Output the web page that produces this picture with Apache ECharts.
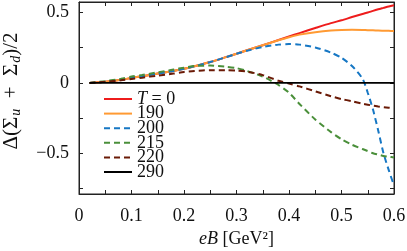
<!DOCTYPE html>
<html><head><meta charset="utf-8">
<script src="https://cdn.jsdelivr.net/npm/echarts@6/dist/echarts.min.js"></script>
<style>html,body{margin:0;padding:0;background:#fff}#c{width:407px;height:251px}</style>
</head><body><div id="c"></div>
<script>
const eB = [0.02,0.05,0.08,0.1,0.12,0.15,0.18,0.2,0.22,0.25,0.28,0.3,0.32,0.35,0.38,0.4,0.42,0.45,0.48,0.5,0.52,0.54,0.55,0.56,0.57,0.58,0.59,0.6];
const T0   = [0,0.008,0.022,0.035,0.047,0.066,0.085,0.1,0.118,0.148,0.183,0.207,0.232,0.268,0.305,0.33,0.354,0.39,0.425,0.445,0.468,0.49,0.5,0.512,0.523,0.533,0.543,0.552];
const T190 = [0,0.008,0.022,0.035,0.047,0.066,0.085,0.1,0.118,0.148,0.183,0.207,0.232,0.268,0.303,0.325,0.343,0.36,0.372,0.376,0.377,0.376,0.375,0.374,0.372,0.371,0.37,0.369];
const T200 = [0,0.008,0.022,0.035,0.047,0.066,0.085,0.1,0.118,0.148,0.183,0.207,0.228,0.255,0.272,0.276,0.272,0.252,0.215,0.178,0.12,0.03,-0.07,-0.19,-0.34,-0.5,-0.62,-0.73];
const T215 = [0,0.012,0.03,0.045,0.056,0.075,0.095,0.108,0.12,0.123,0.115,0.105,0.085,0.045,-0.015,-0.07,-0.15,-0.26,-0.35,-0.4,-0.44,-0.47,-0.485,-0.5,-0.51,-0.52,-0.525,-0.53];
const T220 = [0,0.008,0.018,0.028,0.037,0.052,0.066,0.078,0.085,0.09,0.09,0.088,0.08,0.055,0.015,-0.005,-0.025,-0.06,-0.095,-0.115,-0.13,-0.148,-0.155,-0.162,-0.168,-0.173,-0.177,-0.18];
const T290 = [0,0,0,0,0,0,0,0,0,0,0,0,0,0,0,0,0,0,0,0,0,0,0,0,0,0,0,0];
const legendNames = ['T = 0','190','200','215','220','290'];
const xTicks = [0,0.1,0.2,0.3,0.4,0.5,0.6];
const xMinorTicks = [0.05,0.1,0.15,0.2,0.25,0.3,0.35,0.4,0.45,0.5,0.55];
const yTickLabels = [-0.5,0,0.5];
const yMinorTicks = [-0.75,-0.5,-0.25,0,0.25,0.5];

const FONT = 'Liberation Serif';
const FS = 18;
const pair = ys => eB.map((x,i)=>[x, ys[i]]);
const mk = (name, ys, color, type, width) => ({
  name, type:'line', data: pair(ys), showSymbol:false, symbol:'none', smooth:0.25,
  lineStyle:{color, width, type}, itemStyle:{color}, animation:false
});
const AX = '#222';
const tick = vals => ({show:true, inside:true, length:4, customValues: vals, lineStyle:{color:AX, width:1}});
const line = {show:true, onZero:false, lineStyle:{color:AX, width:1}};
const chart = echarts.init(document.getElementById('c'), null, {renderer:'canvas'});
chart.setOption({
  animation:false,
  grid:{left:79, right:13, top:2, bottom:57, containLabel:false, outerBoundsMode:'none', show:true, borderColor:AX, borderWidth:1, backgroundColor:'transparent'},
  legend:{
    orient:'vertical', left:103, top:90, padding:0, itemWidth:28, itemHeight:10, itemGap:-3.4,
    data: legendNames, itemStyle:{opacity:0},
    formatter: n => n === 'T = 0' ? '{i|T} = 0' : n,
    textStyle:{fontFamily:FONT, fontSize:FS, color:'#111',
      rich:{i:{fontFamily:FONT, fontStyle:'italic', fontSize:FS, color:'#111'}}}
  },
  xAxis:[
    {type:'value', min:0, max:0.6, position:'bottom',
      name:'{i|eB} [GeV²]', nameLocation:'middle', nameGap:36,
      nameTextStyle:{fontFamily:FONT, fontSize:FS, color:'#111', rich:{i:{fontFamily:FONT, fontStyle:'italic', fontSize:FS, color:'#111'}}},
      axisLine:line, axisTick:tick(xMinorTicks), splitLine:{show:false},
      axisLabel:{show:true, fontFamily:FONT, fontSize:FS, color:'#111', margin:13, customValues: xTicks,
        formatter: v => v === 0 ? '0' : v.toFixed(1)}},
    {type:'value', min:0, max:0.6, position:'top', axisLine:line, axisTick:tick(xMinorTicks), splitLine:{show:false}, axisLabel:{show:false}}
  ],
  yAxis:[
    {type:'value', min:-0.79, max:0.575, position:'left',
      name:'{p| }{t|Δ(Σ}{s|u}{t|\u2002+\u2002Σ}{s|d}{t|)/2}', nameLocation:'middle', nameGap:56, nameRotate:90,
      nameTextStyle:{fontFamily:FONT, fontSize:21, color:'#111',
        rich:{p:{width:14, fontSize:21, lineHeight:24},
              t:{fontFamily:FONT, fontSize:21, color:'#111', lineHeight:24, verticalAlign:'middle'},
              s:{fontFamily:FONT, fontSize:14, fontStyle:'italic', color:'#111', lineHeight:24, verticalAlign:'bottom', padding:[8,0,0,1]}}},
      axisLine:line, axisTick:tick(yMinorTicks), splitLine:{show:false},
      axisLabel:{show:true, fontFamily:FONT, fontSize:FS, color:'#111', margin:10, customValues: yTickLabels,
        formatter: v => v === 0 ? '0' : (v < 0 ? '−' + Math.abs(v) : String(v))}},
    {type:'value', min:-0.79, max:0.575, position:'right', axisLine:line, axisTick:tick(yMinorTicks), splitLine:{show:false}, axisLabel:{show:false}}
  ],
  series:[
    mk('T = 0', T0, '#ee1c1c', 'solid', 2),
    mk('190', T190, '#ff9a33', 'solid', 2),
    mk('200', T200, '#1677c4', [6,4], 2),
    mk('215', T215, '#4a8f3a', [6,4], 2),
    mk('220', T220, '#6a1a06', [6,4], 2),
    mk('290', T290, '#000000', 'solid', 1.6)
  ]
});
</script></body></html>
